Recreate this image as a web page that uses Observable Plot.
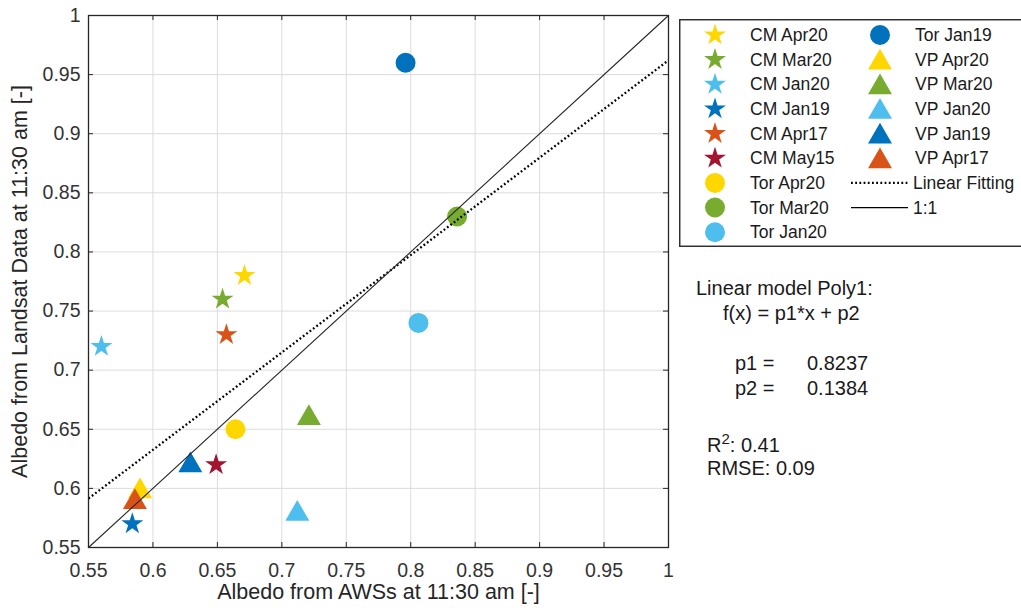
<!DOCTYPE html>
<html>
<head>
<meta charset="utf-8">
<script src="https://cdn.jsdelivr.net/npm/d3@7"></script>
<script src="https://cdn.jsdelivr.net/npm/@observablehq/plot@0.6"></script>
<style>
  html, body { margin: 0; padding: 0; background: #fff; overflow: hidden; }
  #wrap { position: relative; width: 1021px; height: 613px; font-family: "Liberation Sans", Arial, sans-serif; }
  #wrap svg { display: block; }
  .ann { position: absolute; font-size: 20px; color: #1a1a1a; white-space: nowrap; line-height: 20px; height: 20px; }
  .ann sup { font-size: 15px; vertical-align: baseline; position: relative; top: -8px; line-height: 0; }
</style>
</head>
<body>
<div id="wrap"></div>
<script>
// ---- Data ----
const seriesNames = ["CM Apr20", "CM Mar20", "CM Jan20", "CM Jan19", "CM Apr17", "CM May15",
  "Tor Apr20", "Tor Mar20", "Tor Jan20", "Tor Jan19",
  "VP Apr20", "VP Mar20", "VP Jan20", "VP Jan19", "VP Apr17"];
const awsAlbedo = [0.671, 0.654, 0.560, 0.584, 0.657, 0.649,
  0.664, 0.836, 0.806, 0.796,
  0.590, 0.721, 0.712, 0.629, 0.586];
const landsatAlbedo = [0.780, 0.760, 0.720, 0.570, 0.730, 0.620,
  0.650, 0.830, 0.740, 0.960,
  0.600, 0.662, 0.581, 0.622, 0.591];
const axisTicks = [0.55, 0.6, 0.65, 0.7, 0.75, 0.8, 0.85, 0.9, 0.95, 1];
const fitP1 = 0.8237;
const fitP2 = 0.1384;
const fitR2 = 0.41;
const fitRMSE = 0.09;
const xLabel = "Albedo from AWSs at 11:30 am [-]";
const yLabel = "Albedo from Landsat Data at 11:30 am [-]";

// ---- Styles ----
const periodColors = {Apr20: "#FFD700", Mar20: "#77AC30", Jan20: "#4DBEEE", Jan19: "#0072BD", Apr17: "#D95319", May15: "#A2142F"};
const siteSymbols = {CM: "star", Tor: "circle", VP: "triangle"};
const siteRadius = {CM: 6.9, Tor: 10, VP: 8.9};

const rows = seriesNames.map((name, i) => {
  const [site, period] = name.split(" ");
  return {name, site, period, aws: awsAlbedo[i], landsat: landsatAlbedo[i]};
});
const domainX = [axisTicks[0], axisTicks[axisTicks.length - 1]];
const fitLine = domainX.map(x => ({x, y: fitP1 * x + fitP2}));
const oneToOne = domainX.map(x => ({x, y: x}));
const fmt = d3.format("~g");
const font = '"Liberation Sans", Arial, sans-serif';
const M = {left: 88, right: 353, top: 15, bottom: 66};
const W = 1021, H = 613;
const fw = W - M.left - M.right, fh = H - M.top - M.bottom;
const axisColor = "#262626";
const dotted = {stroke: "black", strokeWidth: 2.3, strokeDasharray: "1.8,2.4", strokeLinecap: "butt"};

const dotMark = site => Plot.dot(rows.filter(d => d.site === site), {
  x: "aws", y: "landsat", symbol: siteSymbols[site], r: siteRadius[site],
  fill: d => periodColors[d.period], stroke: "none", dy: site === "VP" ? 3 : 0
});

const chart = Plot.plot({
  width: W, height: H,
  marginLeft: M.left, marginRight: M.right, marginTop: M.top, marginBottom: M.bottom,
  x: {domain: domainX},
  y: {domain: domainX},
  style: {fontFamily: font, background: "white", color: axisColor},
  marks: [
    Plot.gridX(axisTicks, {stroke: "#dcdcdc", strokeOpacity: 1}),
    Plot.gridY(axisTicks, {stroke: "#dcdcdc", strokeOpacity: 1}),
    Plot.axisX(axisTicks, {tickSize: 0, tickPadding: 16, fontSize: 19.5, tickFormat: fmt, label: null, fill: "#333"}),
    Plot.axisY(axisTicks, {tickSize: 0, tickPadding: 8, fontSize: 19.5, tickFormat: fmt, label: null, fill: "#333"}),
    Plot.tickX(axisTicks, {x: d => d, insetTop: fh - 5, stroke: axisColor}),
    Plot.tickX(axisTicks, {x: d => d, insetBottom: fh - 5, stroke: axisColor}),
    Plot.tickY(axisTicks, {y: d => d, insetRight: fw - 5, stroke: axisColor}),
    Plot.tickY(axisTicks, {y: d => d, insetLeft: fw - 5, stroke: axisColor}),
    dotMark("CM"),
    dotMark("Tor"),
    dotMark("VP"),
    Plot.line(fitLine, {x: "x", y: "y", ...dotted}),
    Plot.line(oneToOne, {x: "x", y: "y", stroke: "#262626", strokeWidth: 1.1}),
    Plot.frame({stroke: axisColor, strokeWidth: 1.3}),
    Plot.text([xLabel], {text: d => d, frameAnchor: "bottom", dy: 51, fontSize: 21.5, fill: "#262626"}),
    Plot.text([yLabel], {text: d => d, frameAnchor: "left", textAnchor: "middle", dx: -68, rotate: -90, fontSize: 21.5, fill: "#262626"})
  ]
});
const wrap = document.getElementById("wrap");
wrap.appendChild(chart);

// ---- Legend ----
const legendItems = [
  ...rows.map(d => ({type: "dot", label: d.name, site: d.site, color: periodColors[d.period]})),
  {type: "fit", label: "Linear Fitting"},
  {type: "one", label: "1:1"}
];
const lw = 350, lh = 228, rowH = 24.65, perCol = 9;
const lsvg = d3.create("svg").attr("width", lw).attr("height", lh)
  .style("position", "absolute").style("left", "679px").style("top", "19px");
lsvg.append("rect").attr("x", 0.75).attr("y", 0.75).attr("width", lw + 10).attr("height", lh - 1.5)
  .attr("fill", "white").attr("stroke", axisColor).attr("stroke-width", 1.4);
const d3Sym = {star: d3.symbolStar, circle: d3.symbolCircle, triangle: d3.symbolTriangle};
legendItems.forEach((it, i) => {
  const col = Math.floor(i / perCol), row = i % perCol;
  const cy = 16 + row * rowH;
  const mx = col === 0 ? 36 : 201;
  const tx = col === 0 ? 71 : 236;
  if (it.type === "dot") {
    const r = siteRadius[it.site];
    lsvg.append("path")
      .attr("d", d3.symbol(d3Sym[siteSymbols[it.site]], Math.PI * r * r)())
      .attr("transform", `translate(${mx},${cy + (it.site === "VP" ? 3 : 0)})`)
      .attr("fill", it.color);
  } else {
    lsvg.append("line").attr("x1", 172).attr("x2", 229).attr("y1", cy).attr("y2", cy)
      .attr("stroke", "black")
      .attr("stroke-width", it.type === "fit" ? 2.3 : 1.2)
      .attr("stroke-dasharray", it.type === "fit" ? "1.8,2.4" : null);
  }
  lsvg.append("text").attr("x", it.type === "dot" ? tx : 234).attr("y", cy).attr("dy", "0.35em")
    .attr("font-family", font).attr("font-size", 17.5).attr("fill", "#1a1a1a").text(it.label);
});
wrap.appendChild(lsvg.node());

// ---- Fit annotation ----
const ann = [
  {x: 696, y: 288, html: "Linear model Poly1:"},
  {x: 723, y: 313, html: "f(x) = p1*x + p2"},
  {x: 735, y: 363, html: "p1 ="},
  {x: 807, y: 363, html: fitP1.toFixed(4)},
  {x: 735, y: 388, html: "p2 ="},
  {x: 807, y: 388, html: fitP2.toFixed(4)},
  {x: 707, y: 445, html: `R<sup>2</sup>: ${fitR2.toFixed(2)}`},
  {x: 707, y: 468, html: `RMSE: ${fitRMSE.toFixed(2)}`}
];
ann.forEach(a => {
  const div = document.createElement("div");
  div.className = "ann";
  div.style.left = a.x + "px";
  div.style.top = (a.y - 10) + "px";
  div.innerHTML = a.html;
  wrap.appendChild(div);
});
</script>
</body>
</html>
